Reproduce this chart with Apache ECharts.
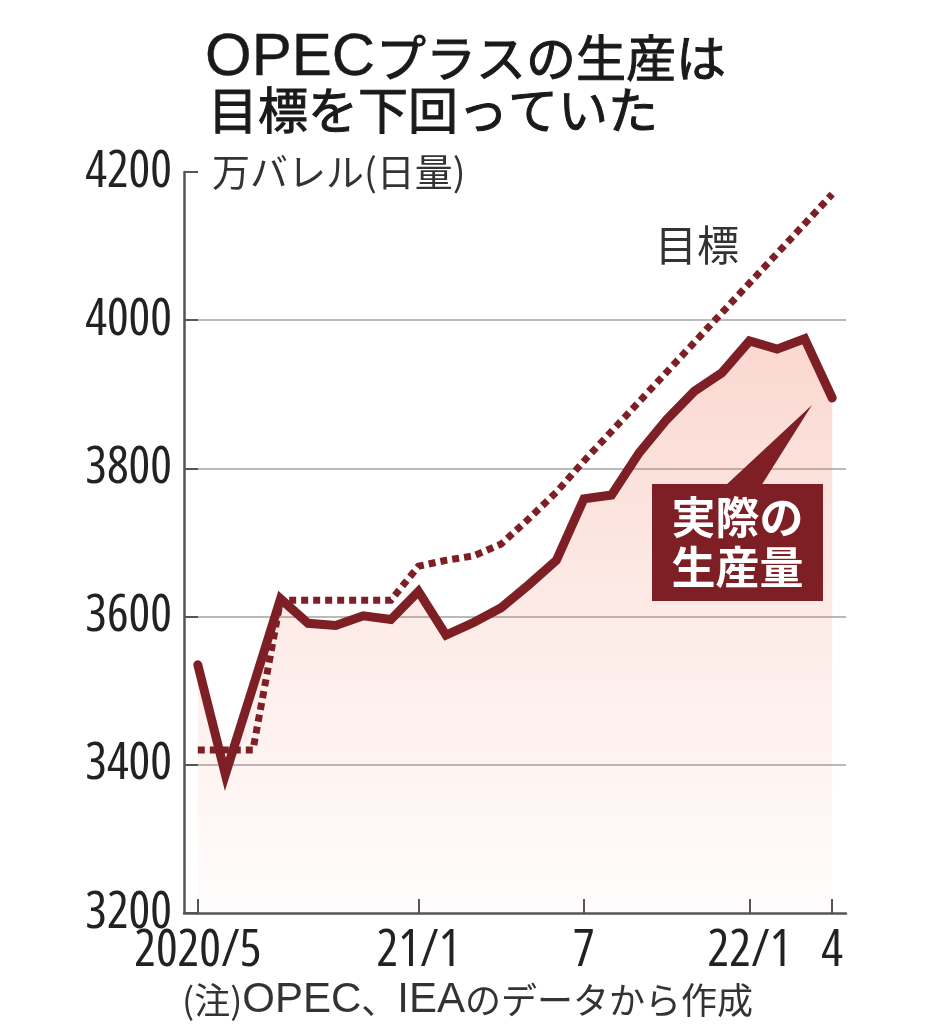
<!DOCTYPE html>
<html>
<head>
<meta charset="utf-8">
<script src="https://cdn.jsdelivr.net/npm/echarts@6/dist/echarts.min.js"></script>
<style>html,body{margin:0;padding:0;background:#fff;}#c{width:930px;height:1032px;}</style>
</head>
<body>
<div id="c"></div>
<script>
// Months 2020/5 .. 2022/4
const categories = ['2020/5','2020/6','2020/7','2020/8','2020/9','2020/10','2020/11','2020/12',
  '2021/1','2021/2','2021/3','2021/4','2021/5','2021/6','2021/7','2021/8','2021/9','2021/10','2021/11','2021/12',
  '2022/1','2022/2','2022/3','2022/4'];
// 実際の生産量 (万バレル/日)
const actual = [3535, 3387, 3505, 3624, 3591, 3588, 3601, 3596,
  3634, 3575, 3592, 3612, 3643, 3676, 3759, 3764, 3821, 3866, 3904, 3929,
  3972, 3961, 3975, 3895];
// 目標
const target = [3420, 3420, 3420, 3622, 3622, 3622, 3622, 3622,
  3668, 3676, 3682, 3698, 3732, 3768, 3810, 3850, 3890, 3930, 3970, 4010,
  4050, 4090, 4130, 4170];
// x tick labels
const tickIndex = [0, 8, 14, 20, 23];
const tickText = ['2020/5', '21/1', '7', '22/1', '4'];
// y axis
const yMin = 3200, yMax = 4200, yStep = 200;

const numFont = '"Open Sans", "Liberation Sans", sans-serif';
const jpFont = '"Noto Sans CJK JP", "Noto Sans", sans-serif';
const latFont = '"Liberation Sans", Arial, sans-serif';
const red = '#7d1f25';

const chart = echarts.init(document.getElementById('c'), null, {renderer: 'canvas'});
const showTick = (i) => tickIndex.indexOf(i) >= 0;

const option = {
  animation: false,
  backgroundColor: '#ffffff',
  grid: {left: 184, right: 84, top: 172, bottom: 119},
  xAxis: {
    type: 'category',
    data: categories,
    boundaryGap: true,
    axisLine: {lineStyle: {color: '#555', width: 2.5}},
    axisTick: {show: true, inside: true, length: 14, alignWithLabel: true, interval: showTick,
      lineStyle: {color: '#555', width: 2}},
    axisLabel: {
      interval: showTick,
      formatter: (v, i) => { const k = tickIndex.indexOf(i); return k >= 0 ? tickText[k] : ''; },
      fontSize: 51, fontStyle: 'condensed', fontFamily: numFont, color: '#222', margin: 13, hideOverlap: false
    },
    splitLine: {show: false}
  },
  yAxis: {
    type: 'value', min: yMin, max: yMax, interval: yStep,
    axisLine: {show: true, lineStyle: {color: '#555', width: 2.5}},
    axisTick: {show: true, inside: true, length: 14, lineStyle: {color: '#555', width: 2}},
    axisLabel: {fontSize: 51, fontStyle: 'condensed', fontFamily: numFont, color: '#222', margin: 12,
      formatter: (v) => String(v)},
    splitLine: {show: true, lineStyle: {color: ['rgba(0,0,0,0)', '#a3a3a3', '#a3a3a3', '#a3a3a3', '#a3a3a3', 'rgba(0,0,0,0)'], width: 1.5}}
  },
  series: [
    {
      name: 'area', type: 'line', data: actual, symbol: 'none', silent: true, z: 1,
      lineStyle: {width: 0, opacity: 0},
      areaStyle: {
        origin: 'start',
        color: new echarts.graphic.LinearGradient(0, 0, 0, 1, [
          {offset: 0, color: 'rgba(238,100,70,0.36)'},
          {offset: 0.5, color: 'rgba(238,100,70,0.18)'},
          {offset: 1, color: 'rgba(238,100,70,0.02)'}
        ])
      }
    },
    {
      name: '目標', type: 'line', data: target, symbol: 'none', z: 2,
      lineStyle: {color: red, width: 7, type: [7, 5], cap: 'butt', join: 'miter'}
    },
    {
      name: '実際の生産量', type: 'line', data: actual, symbol: 'none', z: 3,
      lineStyle: {color: red, width: 9, cap: 'round', join: 'miter', miterLimit: 10}
    }
  ],
  graphic: [
    {type: 'text', x: 205, y: 58, z: 10, style: {text: 'OPEC', fontSize: 60, fontFamily: latFont,
      fill: '#1a1a1a', stroke: '#1a1a1a', lineWidth: 0.4,
      align: 'left', verticalAlign: 'middle', textAlign: 'left', textVerticalAlign: 'middle'}},
    {type: 'text', x: 376, y: 58, z: 10, style: {text: 'プラスの生産は', fontSize: 50, fontFamily: jpFont,
      fill: '#1a1a1a', stroke: '#1a1a1a', lineWidth: 1.0,
      align: 'left', verticalAlign: 'middle', textAlign: 'left', textVerticalAlign: 'middle'}},
    {type: 'text', x: 208, y: 110, z: 10, style: {text: '目標を下回っていた', fontSize: 50, fontFamily: jpFont,
      fill: '#1a1a1a', stroke: '#1a1a1a', lineWidth: 1.0,
      align: 'left', verticalAlign: 'middle', textAlign: 'left', textVerticalAlign: 'middle'}},
    {type: 'text', x: 212, y: 172, z: 10, style: {text: '万バレル(日量)', fontSize: 38, fontFamily: jpFont,
      fill: '#333', align: 'left', verticalAlign: 'middle', textAlign: 'left', textVerticalAlign: 'middle'}},
    {type: 'text', x: 655, y: 245, z: 10, style: {text: '目標', fontSize: 42, fontFamily: jpFont,
      fill: '#333', align: 'left', verticalAlign: 'middle', textAlign: 'left', textVerticalAlign: 'middle'}},
    {type: 'polygon', z: 10, shape: {points: [[725, 486], [761, 486], [812, 405]]}, style: {fill: red}},
    {type: 'rect', z: 10, shape: {x: 652, y: 484, width: 171, height: 117}, style: {fill: red}},
    {type: 'text', x: 737.5, y: 542, z: 11, style: {text: '実際の\n生産量', fontSize: 44, fontFamily: jpFont, fontWeight: 'bold',
      lineHeight: 50, fill: '#fff', align: 'center', verticalAlign: 'middle', textAlign: 'center', textVerticalAlign: 'middle'}},
    {type: 'text', x: 182, y: 1000, z: 10, style: {
      text: '(注){l|OPEC}、{l|IEA}のデータから作成', fontSize: 36, fontFamily: jpFont, fill: '#333',
      lineHeight: 46, align: 'left', verticalAlign: 'middle', textAlign: 'left', textVerticalAlign: 'middle',
      rich: {l: {fontSize: 42, fontFamily: latFont, fill: '#333', lineHeight: 46}}
    }}
  ]
};
chart.setOption(option);
</script>
</body>
</html>
